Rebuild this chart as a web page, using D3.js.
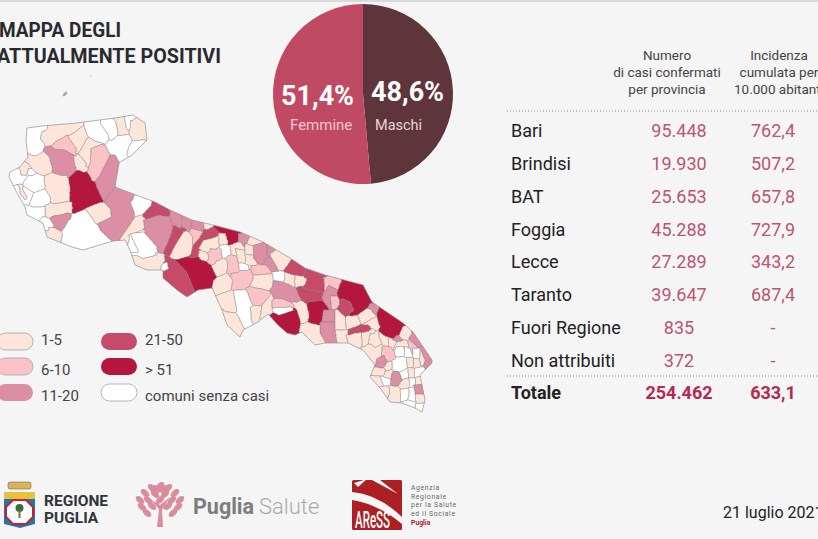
<!DOCTYPE html>
<html>
<head>
<meta charset="utf-8">
<script src="https://cdn.jsdelivr.net/npm/d3@7"></script>
<style>
  html, body { margin: 0; padding: 0; background: #f5f5f6; overflow: hidden; }
  svg { display: block; font-family: Roboto, sans-serif; }
</style>
</head>
<body>
<script>
// pie
var sessoLabels = ['Maschi', 'Femmine'];
var sessoValues = [48.6, 51.4];
var sessoPct = ['48,6%', '51,4%'];

// table
var province = ['Bari', 'Brindisi', 'BAT', 'Foggia', 'Lecce', 'Taranto', 'Fuori Regione', 'Non attribuiti', 'Totale'];
var casi = ['95.448', '19.930', '25.653', '45.288', '27.289', '39.647', '835', '372', '254.462'];
var incidenza = ['762,4', '507,2', '657,8', '727,9', '343,2', '687,4', '-', '-', '633,1'];
var headCasi = ['Numero', 'di casi confermati', 'per provincia'];
var headIncidenza = ['Incidenza', 'cumulata per', '10.000 abitanti'];

// legend
var classi = ['1-5', '6-10', '11-20', '21-50', '> 51', 'comuni senza casi'];
var coloriClassi = ['#fde5da', '#fcc3c7', '#dc8ea5', '#c64b6b', '#b5163d', '#ffffff'];
var V = 5; // index of "senza casi"

// map: [classe, ring], rings, in thirds of a pixel
var contorno = [[27,128],[42,126],[77,123],[115,118],[133,115],[145,123],[147,140],[132,155],[120,162],[119,163],[115,187],[128,192],[155,202],[170,210],[192,220],[213,225],[240,232],[263,242],[290,258],[305,268],[325,275],[363,285],[372,302],[403,323],[413,332],[432,360],[432,363],[420,375],[425,400],[422,412],[415,408],[402,403],[390,402],[380,388],[370,377],[375,365],[363,350],[348,343],[325,343],[315,345],[302,332],[295,335],[287,333],[278,325],[268,314],[258,322],[243,330],[240,337],[227,325],[222,310],[212,288],[198,290],[187,297],[177,290],[163,278],[163,270],[147,270],[135,265],[130,250],[125,240],[113,241],[83,250],[72,247],[47,237],[43,223],[27,215],[25,207],[17,193],[9,177],[10,172],[20,167],[28,157],[26,140]];

var foglioNord = [
  [V,[[80,205],[125,198],[135,205],[120,235],[125,250],[105,285],[85,275],[78,240]]],
  [0,[[125,215],[165,205],[230,190],[250,195],[225,215],[200,225],[165,245],[145,250],[120,235]]],
  [0,[[225,215],[250,195],[262,230],[240,265],[225,280],[205,230]]],
  [V,[[252,195],[300,188],[325,225],[312,250],[285,240],[262,225]]],
  [V,[[300,188],[345,182],[355,215],[335,240],[325,225]]],
  [0,[[345,175],[372,168],[380,220],[355,225]]],
  [V,[[372,168],[400,165],[395,185],[385,205],[378,200]]],
  [0,[[390,180],[430,185],[440,240],[420,240],[395,225]]],
  [V,[[380,225],[355,228],[320,250],[330,285],[360,305],[380,290],[385,265]]],
  [V,[[420,240],[437,240],[420,270],[395,285],[380,285],[385,262]]],
  [0,[[262,232],[285,245],[312,250],[275,265],[265,310],[250,320],[238,285]]],
  [1,[[272,265],[305,252],[330,285],[320,320],[300,345],[275,360]]],
  [1,[[165,245],[200,225],[228,265],[225,285],[195,270],[160,265]]],
  [2,[[145,265],[195,270],[220,285],[228,320],[200,355],[165,330],[150,295]]],
  [0,[[220,290],[238,285],[258,310],[250,330],[225,320]]],
  [2,[[330,285],[345,285],[358,310],[345,370],[325,400],[310,420],[290,380],[295,355]]],
  [4,[[205,355],[235,335],[265,350],[290,385],[305,420],[260,440],[220,450],[210,420]]],
  [0,[[135,355],[200,345],[210,385],[205,420],[160,430],[140,390]]],
  [0,[[80,285],[105,290],[145,290],[150,325],[125,340],[100,320]]],
  [V,[[30,335],[60,330],[85,325],[100,340],[90,360],[60,365],[35,360]]],
  [V,[[85,345],[125,350],[130,380],[105,395],[85,385],[70,365]]],
  [V,[[50,380],[85,390],[100,400],[85,430],[65,420]]],
  [V,[[100,398],[135,392],[150,410],[140,435],[100,445],[90,430]]],
  [0,[[60,320],[85,320],[80,345],[62,345]]],
  [0,[[60,375],[80,410],[75,420],[60,400]]],
  [0,[[135,435],[215,425],[215,445],[180,460],[135,465]]],
  [V,[[75,440],[135,440],[135,465],[105,470],[80,465]]],
  [2,[[160,470],[205,465],[210,480],[185,510],[160,500]]],
  [0,[[258,445],[300,430],[330,445],[332,470],[290,490],[260,470]]],
  [2,[[345,385],[385,405],[405,450],[395,480],[370,530],[340,540],[300,510],[295,490],[335,470],[330,440],[320,420]]],
  [V,[[390,425],[440,415],[450,435],[415,465],[405,465]]],
  [0,[[410,470],[435,470],[435,500],[375,540],[360,535],[395,485]]],
  [V,[[130,470],[160,495],[150,510],[130,495]]],
  [V,[[205,480],[258,450],[290,495],[300,510],[335,550],[325,555],[250,570],[215,560],[195,540],[185,515]]],
  [0,[[145,500],[165,505],[185,520],[170,540],[150,525]]],
  [V,[[385,525],[430,510],[465,555],[470,590],[440,590],[410,570]]]
];

var foglioCentro = [
  [3,[[40,80],[70,40],[120,65],[115,75],[85,75],[55,90]]],
  [2,[[40,90],[85,75],[120,85],[125,130],[95,190],[75,170],[45,130]]],
  [3,[[100,190],[135,100],[165,115],[130,170],[120,195]]],
  [0,[[120,195],[160,125],[185,140],[180,190],[145,205],[125,205]]],
  [2,[[120,60],[155,80],[150,115],[125,100]]],
  [2,[[155,75],[185,90],[180,115],[155,110]]],
  [2,[[185,90],[220,100],[215,120],[185,115]]],
  [0,[[220,100],[250,105],[230,120]]],
  [1,[[185,115],[215,125],[205,145],[190,160]]],
  [3,[[225,120],[255,110],[270,130],[240,145],[215,170],[195,205],[180,205],[195,160]]],
  [4,[[250,110],[270,103],[330,125],[325,150],[300,165],[285,130],[265,125]]],
  [2,[[325,130],[360,135],[345,170],[325,160]]],
  [0,[[360,135],[400,155],[370,165],[350,160]]],
  [0,[[220,150],[265,140],[255,175],[225,185],[205,175]]],
  [0,[[205,180],[225,185],[235,205],[210,210]]],
  [1,[[240,175],[270,180],[265,220],[235,215]]],
  [V,[[275,170],[300,170],[300,195],[280,195]]],
  [0,[[265,130],[285,130],[290,155],[270,155]]],
  [0,[[260,210],[290,215],[285,250],[260,255],[250,230]]],
  [1,[[295,195],[320,200],[325,250],[295,255]]],
  [0,[[300,165],[330,155],[345,175],[320,195],[305,190]]],
  [0,[[315,175],[345,180],[345,215],[325,215]]],
  [0,[[345,160],[370,170],[370,195],[345,190]]],
  [0,[[345,195],[375,195],[375,230],[350,235]]],
  [V,[[328,220],[355,225],[355,238],[330,235]]],
  [3,[[100,195],[135,210],[170,250],[190,300],[170,320],[140,300],[100,265]]],
  [4,[[135,210],[200,200],[235,225],[255,260],[245,295],[215,290],[205,300],[190,295],[170,240]]],
  [V,[[90,225],[110,215],[115,235],[100,243]]],
  [0,[[20,205],[100,190],[105,210],[90,230],[50,240],[15,225]]],
  [V,[[0,130],[40,125],[80,170],[75,195],[35,205]]],
  [0,[[250,270],[290,250],[305,270],[300,295],[270,310],[245,295]]],
  [1,[[300,250],[360,240],[370,265],[345,295],[305,295],[310,270]]],
  [1,[[360,225],[415,230],[425,250],[370,255]]],
  [0,[[370,255],[430,250],[425,290],[395,300],[365,285]]],
  [1,[[345,295],[395,295],[420,310],[400,350],[365,340]]],
  [2,[[370,165],[410,155],[410,205],[395,220],[370,205]]],
  [2,[[410,155],[440,170],[420,195],[410,190]]],
  [2,[[400,210],[420,200],[445,240],[425,245]]],
  [0,[[420,190],[445,175],[480,205],[465,240],[445,240]]],
  [0,[[270,310],[310,305],[320,360],[285,365],[275,340]]],
  [V,[[310,305],[350,300],[365,345],[360,400],[340,420],[320,360]]],
  [0,[[275,360],[320,375],[345,420],[330,440],[290,405]]],
  [0,[[360,350],[395,345],[385,395],[365,390]]],
  [0,[[395,345],[425,310],[430,345],[415,385],[390,385]]]
];

var foglioSud = [
  [3,[[70,30],[95,0],[135,30],[125,45],[100,45]]],
  [3,[[135,30],[195,45],[190,95],[135,85]]],
  [1,[[190,50],[240,65],[235,90],[195,90]]],
  [3,[[120,85],[185,95],[190,120],[140,125],[120,110]]],
  [2,[[40,60],[85,75],[120,115],[110,125],[40,110],[35,85]]],
  [0,[[75,40],[105,45],[100,70],[75,65]]],
  [0,[[105,45],[140,55],[135,72],[105,65]]],
  [V,[[35,35],[70,35],[70,60],[40,60]]],
  [4,[[145,125],[190,120],[205,150],[180,195],[150,185]]],
  [2,[[205,75],[235,90],[215,150],[190,125],[185,110]]],
  [1,[[210,108],[230,108],[235,135],[215,150]]],
  [4,[[240,70],[310,75],[335,125],[275,175],[245,120],[230,100]]],
  [3,[[245,115],[270,125],[280,150],[255,170],[235,145]]],
  [2,[[190,150],[225,150],[225,185],[185,185]]],
  [2,[[180,185],[225,185],[230,245],[200,250],[180,220]]],
  [0,[[225,150],[255,170],[255,210],[225,210]]],
  [0,[[225,210],[260,210],[260,245],[230,245]]],
  [4,[[25,165],[60,160],[110,145],[115,180],[105,225],[80,220],[55,195],[35,180]]],
  [1,[[35,120],[65,115],[100,135],[85,145],[55,140],[35,140]]],
  [V,[[35,145],[90,140],[100,150],[55,165]]],
  [0,[[100,125],[130,130],[145,165],[130,190],[110,150]]],
  [4,[[120,225],[135,225],[135,240],[122,240]]],
  [0,[[130,190],[180,195],[180,220],[195,250],[165,255],[125,215]]],
  [4,[[355,150],[390,160],[430,190],[405,235],[375,225],[355,195]]],
  [2,[[330,130],[350,145],[345,160],[328,150]]],
  [0,[[255,170],[290,165],[295,190],[262,205]]],
  [0,[[295,165],[330,145],[345,170],[310,190]]],
  [0,[[310,190],[345,170],[360,200],[330,195]]],
  [3,[[265,210],[325,195],[325,210],[285,215],[265,225]]],
  [0,[[258,225],[300,220],[305,245],[265,250]]],
  [0,[[305,222],[335,212],[345,235],[308,250]]],
  [0,[[310,270],[345,240],[365,255],[360,300],[345,315],[315,290]]],
  [2,[[440,225],[460,215],[485,255],[470,260]]],
  [2,[[480,260],[500,265],[515,300],[500,320],[490,290]]],
  [0,[[430,200],[455,220],[440,240],[420,230]]],
  [2,[[410,225],[425,240],[405,255],[395,240]]],
  [0,[[330,220],[355,225],[365,250],[345,262],[325,245]]],
  [0,[[355,225],[385,232],[385,255],[365,250]]],
  [0,[[385,232],[410,245],[400,265],[385,255]]],
  [0,[[410,245],[440,240],[445,262],[420,270],[400,265]]],
  [1,[[445,240],[470,258],[460,285],[445,262]]],
  [1,[[365,262],[390,262],[405,295],[385,300],[365,285]]],
  [V,[[405,260],[430,258],[432,285],[410,290]]],
  [V,[[432,258],[450,265],[455,290],[435,290]]],
  [V,[[458,262],[480,270],[478,295],[458,290]]],
  [0,[[480,270],[495,300],[480,315],[478,295]]],
  [V,[[410,290],[435,292],[440,320],[425,335],[395,325],[395,305]]],
  [0,[[440,290],[460,295],[458,320],[442,318]]],
  [0,[[460,295],[478,298],[480,320],[460,322]]],
  [2,[[350,295],[372,285],[378,310],[360,322],[345,318]]],
  [0,[[378,310],[395,305],[395,325],[375,330]]],
  [V,[[420,335],[440,325],[445,350],[425,355]]],
  [0,[[445,325],[462,325],[462,350],[445,350]]],
  [V,[[465,325],[482,322],[482,345],[465,350]]],
  [0,[[345,320],[375,330],[368,345],[345,345],[332,340]]],
  [0,[[375,335],[395,330],[392,355],[372,350]]],
  [2,[[395,340],[412,335],[425,360],[405,375],[390,370]]],
  [0,[[332,350],[360,348],[368,375],[350,380]]],
  [V,[[360,350],[390,355],[388,375],[370,375]]],
  [0,[[425,360],[445,355],[447,380],[420,385]]],
  [V,[[447,355],[465,355],[465,380],[448,380]]],
  [0,[[468,352],[482,350],[484,372],[468,378]]],
  [2,[[460,375],[484,372],[487,400],[465,400]]],
  [0,[[350,382],[385,378],[388,400],[370,410]]],
  [0,[[388,378],[420,385],[418,420],[395,425],[388,405]]],
  [V,[[420,390],[445,385],[445,410],[425,425]]],
  [V,[[447,382],[460,380],[465,400],[465,425],[447,415]]],
  [0,[[465,402],[487,402],[492,425],[470,430]]],
  [V,[[465,430],[490,430],[487,452],[470,445]]],
  [V,[[425,425],[465,425],[465,440],[430,432]]]
];

var width = 818, height = 539;
var svg = d3.select('body').append('svg').attr('width', width).attr('height', height);

svg.append('rect').attr('width', width).attr('height', 2).attr('fill', '#d9d9d9');

// title
svg.append('text').attr('x', -1).attr('y', 37).attr('font-size', 20.5).attr('font-weight', 700)
  .attr('textLength', 122).attr('lengthAdjust', 'spacingAndGlyphs')
  .attr('fill', '#2a2a2e').text('MAPPA DEGLI');
svg.append('text').attr('x', -3).attr('y', 63).attr('font-size', 20.5).attr('font-weight', 700)
  .attr('textLength', 224).attr('lengthAdjust', 'spacingAndGlyphs')
  .attr('fill', '#2a2a2e').text('ATTUALMENTE POSITIVI');

// map. Rings don't quite touch, so rasterize them on a grid, grow them into the
// gaps, then let d3.contours trace each comune back out
var comuni = [];
function addFoglio(foglio, x0, y0) {
  var sx = d3.scaleLinear().domain([0, 3]).range([x0, x0 + 1]);
  var sy = d3.scaleLinear().domain([0, 3]).range([y0, y0 + 1]);
  foglio.forEach(function (d) {
    comuni.push({ classe: d[0], ring: d[1].map(function (p) { return [sx(p[0]), sy(p[1])]; }) });
  });
}
addFoglio(foglioNord, 0, 60);
addFoglio(foglioCentro, 130, 190);
addFoglio(foglioSud, 260, 260);

var cell = 0.5, gx0 = 0, gy0 = 100;
var gw = 900, gh = 660;
var labels = new Int16Array(gw * gh).fill(-1);
var queue = [];

comuni.forEach(function (c, idx) {
  var xs = c.ring.map(function (p) { return p[0]; }), ys = c.ring.map(function (p) { return p[1]; });
  var i0 = Math.max(0, Math.floor((d3.min(xs) - gx0) / cell)), i1 = Math.min(gw - 1, Math.ceil((d3.max(xs) - gx0) / cell));
  var j0 = Math.max(0, Math.floor((d3.min(ys) - gy0) / cell)), j1 = Math.min(gh - 1, Math.ceil((d3.max(ys) - gy0) / cell));
  for (var j = j0; j <= j1; j++) {
    for (var i = i0; i <= i1; i++) {
      if (d3.polygonContains(c.ring, [gx0 + i * cell, gy0 + j * cell])) labels[j * gw + i] = idx;
    }
  }
});
for (var k = 0; k < labels.length; k++) {
  if (labels[k] >= 0) queue.push(k);
}
// breadth first fill of what's left
for (var q = 0; q < queue.length; q++) {
  var at = queue[q], col = at % gw;
  [col > 0 ? at - 1 : -1, col < gw - 1 ? at + 1 : -1, at - gw, at + gw].forEach(function (n) {
    if (n >= 0 && n < labels.length && labels[n] < 0) {
      labels[n] = labels[at];
      queue.push(n);
    }
  });
}

// bounding boxes so each comune only traces its own bit of the grid
var boxes = comuni.map(function () { return [gw, gh, 0, 0]; });
for (var n = 0; n < labels.length; n++) {
  var b = boxes[labels[n]], ci = n % gw, cj = Math.floor(n / gw);
  if (ci < b[0]) b[0] = ci;
  if (cj < b[1]) b[1] = cj;
  if (ci > b[2]) b[2] = ci;
  if (cj > b[3]) b[3] = cj;
}

function traceComune(idx) {
  var b = boxes[idx];
  if (b[2] < b[0]) return '';
  var x0 = Math.max(0, b[0] - 2), y0 = Math.max(0, b[1] - 2);
  var w = Math.min(gw, b[2] + 3) - x0, h = Math.min(gh, b[3] + 3) - y0;
  var sub = new Float32Array(w * h);
  for (var j = 0; j < h; j++) {
    for (var i = 0; i < w; i++) {
      sub[j * w + i] = labels[(j + y0) * gw + i + x0] === idx ? 1 : 0;
    }
  }
  var shape = d3.contours().size([w, h]).thresholds([0.5])(sub)[0];
  return d3.geoPath(d3.geoIdentity().scale(cell).translate([gx0 + x0 * cell, gy0 + y0 * cell]))(shape);
}

svg.append('clipPath').attr('id', 'clipPuglia').append('path')
  .attr('d', d3.line().curve(d3.curveLinearClosed)(contorno));

var mapG = svg.append('g').attr('clip-path', 'url(#clipPuglia)');
mapG.selectAll('path')
  .data(comuni)
  .enter()
  .append('path')
  .attr('d', function (d, i) { return traceComune(i); })
  .attr('fill', function (d) { return coloriClassi[d.classe]; })
  .attr('stroke', '#858585')
  .attr('stroke-width', 0.5);

svg.append('path').attr('d', d3.line().curve(d3.curveLinearClosed)(contorno))
  .attr('fill', 'none').attr('stroke', '#8f8f8f').attr('stroke-width', 0.7);

// Tremiti
svg.append('ellipse').attr('cx', 65).attr('cy', 94).attr('rx', 3).attr('ry', 1.5)
  .attr('transform', 'rotate(-45 65 94)').attr('fill', '#aaa');
svg.append('circle').attr('cx', 91).attr('cy', 76).attr('r', 0.7).attr('fill', '#bbb');

// pie
var pie = d3.pie().sort(null).value(function (d) { return d; });
var arc = d3.arc().innerRadius(0).outerRadius(90);
var pieG = svg.append('g').attr('transform', 'translate(363,94)');
var pieColors = ['#5e353b', '#c04a64'];
pieG.selectAll('path')
  .data(pie(sessoValues))
  .enter()
  .append('path')
  .attr('d', arc)
  .attr('fill', function (d, i) { return pieColors[i]; });

svg.append('text').attr('x', 371).attr('y', 101).attr('font-size', 27).attr('font-weight', 700).attr('fill', '#fff').text(sessoPct[0]);
svg.append('text').attr('x', 281).attr('y', 105).attr('font-size', 27).attr('font-weight', 700).attr('fill', '#fff').text(sessoPct[1]);
svg.append('text').attr('x', 375).attr('y', 130).attr('font-size', 14.5).attr('fill', '#ecd5d8').text(sessoLabels[0]);
svg.append('text').attr('x', 290).attr('y', 130).attr('font-size', 15).attr('fill', '#f6c6d0').text(sessoLabels[1]);

// table header
var headY = [60, 77, 94];
headCasi.forEach(function (t, i) {
  svg.append('text').attr('x', 667).attr('y', headY[i]).attr('text-anchor', 'middle')
    .attr('font-size', 13.5).attr('fill', '#444').text(t);
});
headIncidenza.forEach(function (t, i) {
  svg.append('text').attr('x', 779).attr('y', headY[i]).attr('text-anchor', 'middle')
    .attr('font-size', 13.5).attr('fill', '#444').text(t);
});

// table rows
var rowY = d3.scalePoint().domain(province).range([131, 393]);
var rows = svg.selectAll('g.riga')
  .data(province)
  .enter()
  .append('g')
  .attr('class', 'riga')
  .attr('font-size', 18)
  .attr('font-weight', function (d) { return d === 'Totale' ? 700 : 400; });

rows.append('text').attr('x', 511).attr('y', function (d) { return rowY(d); })
  .attr('fill', '#222').attr('dy', '0.35em').text(function (d) { return d; });
rows.append('text').attr('x', 679).attr('y', function (d) { return rowY(d); })
  .attr('fill', function (d) { return d === 'Totale' ? '#b32a50' : '#bb5570'; })
  .attr('text-anchor', 'middle').attr('dy', '0.35em').text(function (d, i) { return casi[i]; });
rows.append('text').attr('x', 773).attr('y', function (d) { return rowY(d); })
  .attr('fill', function (d) { return d === 'Totale' ? '#b32a50' : '#bb5570'; })
  .attr('text-anchor', 'middle').attr('dy', '0.35em').text(function (d, i) { return incidenza[i]; });

[111, 376].forEach(function (y) {
  svg.append('line').attr('x1', 507).attr('x2', width).attr('y1', y).attr('y2', y)
    .attr('stroke', '#888').attr('stroke-width', 1).attr('stroke-dasharray', '1 2');
});

// legend
var legX = [-3, -3, -3, 101, 101, 101];
var legBoxY = [333, 358, 384, 333, 358, 384];
var legTextX = [41, 41, 41, 145, 145, 145];
var legTextY = [345, 375, 401, 345, 375, 401];
classi.forEach(function (c, i) {
  svg.append('rect').attr('x', legX[i]).attr('y', legBoxY[i]).attr('width', 36).attr('height', 17).attr('rx', 8.5)
    .attr('fill', coloriClassi[i]).attr('stroke', i === 0 || i === 1 || i === V ? '#999' : 'none').attr('stroke-width', 0.7);
  svg.append('text').attr('x', legTextX[i]).attr('y', legTextY[i]).attr('font-size', 15)
    .attr('fill', '#444').text(c);
});

// crest
var crest = svg.append('g');
crest.append('rect').attr('x', 8).attr('y', 482).attr('width', 23).attr('height', 7).attr('rx', 2).attr('fill', '#d9b458').attr('stroke', '#555').attr('stroke-width', 0.5);
crest.append('path').attr('d', 'M4,492 H35 V524 L20,528 L4,524 Z').attr('fill', '#1f78ad');
crest.append('rect').attr('x', 4).attr('y', 492).attr('width', 31).attr('height', 7).attr('fill', '#e8c23c');
crest.append('path').attr('d', 'M13,500 H26 L33,507 V517 L26,524 H13 L6,517 V507 Z').attr('fill', '#fff').attr('stroke', '#c8202f').attr('stroke-width', 2);
crest.append('circle').attr('cx', 19.5).attr('cy', 508).attr('r', 4).attr('fill', '#3c6b3a');
crest.append('rect').attr('x', 18.5).attr('y', 510).attr('width', 2).attr('height', 8).attr('fill', '#8a6a2c');
svg.append('text').attr('x', 44).attr('y', 506).attr('font-size', 15.5).attr('font-weight', 700).attr('fill', '#30343c').text('REGIONE');
svg.append('text').attr('x', 44).attr('y', 523).attr('font-size', 15.5).attr('font-weight', 700).attr('fill', '#30343c').text('PUGLIA');

// tree logo
var tree = svg.append('g').attr('transform', 'translate(160,503)');
tree.append('path').attr('d', 'M-3,24 L-1,6 L-10,-4 L0,2 L10,-6 L2,7 L3,24 Z').attr('fill', '#d98d9c');
[[0,-17],[-8,-15],[8,-15],[-15,-10],[15,-10],[-5,-9],[5,-9],[-20,-3],[20,-3],[-12,-3],[12,-3],[-18,4],[18,4],[-8,3],[8,3],[-13,10],[13,10],[0,-3],[-4,-14],[4,-14]].forEach(function (l) {
  tree.append('ellipse').attr('cx', l[0]).attr('cy', l[1]).attr('rx', 5).attr('ry', 3)
    .attr('transform', 'rotate(' + (l[0] < 0 ? 40 : -40) + ' ' + l[0] + ' ' + l[1] + ')').attr('fill', '#d98d9c');
});
svg.append('text').attr('x', 193).attr('y', 514).attr('font-size', 21.5).attr('font-weight', 700).attr('fill', '#7d7d7d').text('Puglia');
svg.append('text').attr('x', 259).attr('y', 514).attr('font-size', 22).attr('font-weight', 300).attr('fill', '#aaa').text('Salute');

// ARESS logo
svg.append('rect').attr('x', 352).attr('y', 480).attr('width', 50).attr('height', 50).attr('rx', 1.5).attr('fill', '#ac1f24');
svg.append('path').attr('d', 'M352,492 Q378,494 402,517 L402,524 Q378,504 352,500 Z').attr('fill', '#f5f5f6');
svg.append('path').attr('d', 'M354,483 L367,479 L358,487 Z M372,480 L380,480 L398,494 Z').attr('fill', '#f5f5f6');
svg.append('text').attr('x', 355).attr('y', 528).attr('font-size', 23).attr('font-weight', 500)
  .attr('textLength', 35).attr('lengthAdjust', 'spacingAndGlyphs').attr('fill', '#fff').text('AReSS');
['Agenzia', 'Regionale', 'per la Salute', 'ed il Sociale'].forEach(function (t, i) {
  svg.append('text').attr('x', 411).attr('y', 490 + i * 8.6).attr('font-size', 6.8).attr('letter-spacing', 0.65).attr('fill', '#666').text(t);
});
svg.append('text').attr('x', 411).attr('y', 524.5).attr('font-size', 6.8).attr('font-weight', 700).attr('fill', '#ac1f24').text('Puglia');

// date
svg.append('text').attr('x', 723).attr('y', 518).attr('font-size', 16).attr('fill', '#222').text('21 luglio 2021');
</script>
</body>
</html>
